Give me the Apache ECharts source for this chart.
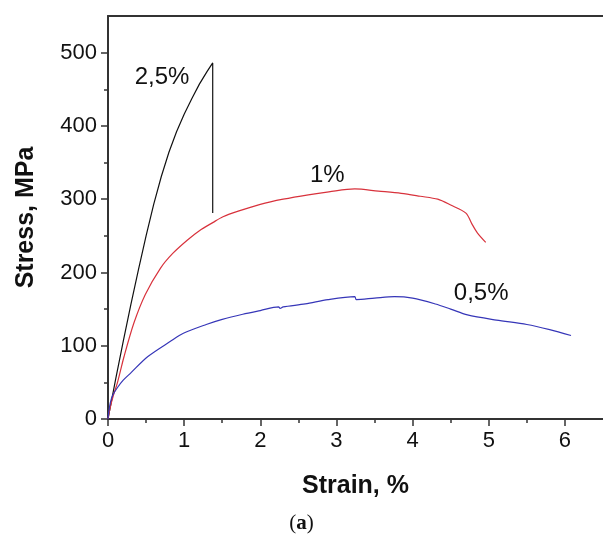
<!DOCTYPE html>
<html>
<head>
    <meta charset="UTF-8">
    <title>Stress-strain curves</title>
    <script src="https://cdn.jsdelivr.net/npm/echarts@6/dist/echarts.min.js"></script>
    <style>
      html, body { margin: 0; padding: 0; background: #fff; }
      #chart { width: 603px; height: 545px; }
    </style>
</head>
<body>
    <div id="chart"></div>
    <script>
        // curves: [strain %, stress MPa]
        var curve25 = [[0,0],[0.1,54],[0.2,106],[0.3,156],[0.4,204],[0.5,250],[0.6,293],[0.7,331],[0.8,364],[0.9,392],[1.0,416],[1.1,437],[1.2,457],[1.3,474],[1.375,486],[1.375,281]];
        var curve1 = [[0,0],[0.03,16],[0.07,32],[0.125,50],[0.21,85],[0.34,131],[0.49,170],[0.69,206],[0.85,226],[1.04,244],[1.2,257],[1.375,268],[1.51,276],[1.72,284],[2.0,293],[2.3,300],[2.63,306],[2.9,310],[3.24,314],[3.55,311],[3.85,308],[4.1,304],[4.33,300],[4.5,292],[4.7,281],[4.78,266],[4.85,254],[4.96,241]];
        var curve05 = [[0,0],[0.01,10],[0.03,22],[0.06,32],[0.125,43],[0.2,53],[0.3,63],[0.52,85],[0.82,106],[0.99,117],[1.29,129],[1.5,136],[1.77,143],[2.0,148],[2.24,153],[2.26,151],[2.3,153],[2.59,157],[2.89,163],[3.24,167],[3.26,163],[3.5,165],[3.76,167],[4.0,165],[4.3,157],[4.5,150],[4.72,142],[5.1,135],[5.5,129],[5.8,122],[6.08,114]];

        var curveNames = ['2,5%', '1%', '0,5%'];
        // where each curve's name sits, in strain / stress units
        var namePos = [[0.71, 466], [2.88, 333], [4.9, 172]];

        var xTicks = [0, 1, 2, 3, 4, 5, 6];
        var xMinor = [0.5, 1.5, 2.5, 3.5, 4.5, 5.5];
        var yTicks = [0, 100, 200, 300, 400, 500];
        var yMinor = [50, 150, 250, 350, 450];

        var font = 'Liberation Sans, Arial, sans-serif';
        var axisColor = '#333';

        var chart = echarts.init(document.getElementById('chart'), null, {renderer: 'canvas'});

        function curveSeries(data, color, i, smooth) {
            return {
                type: 'line',
                data: data,
                xAxisIndex: 0,
                yAxisIndex: 0,
                showSymbol: false,
                symbol: 'none',
                silent: true,
                smooth: smooth,
                lineStyle: {color: color, width: 1.2},
                markPoint: {
                    symbol: 'circle',
                    symbolSize: 0,
                    silent: true,
                    data: [{
                        coord: namePos[i],
                        label: {
                            show: true,
                            position: 'inside',
                            formatter: curveNames[i],
                            color: '#111',
                            fontFamily: font,
                            fontSize: 24
                        }
                    }]
                }
            };
        }

        var option = {
            animation: false,
            backgroundColor: '#fff',
            grid: {left: 108, right: -4, top: 16, bottom: 126},
            xAxis: [{
                type: 'value',
                position: 'bottom',
                min: 0,
                max: 6.5,
                name: 'Strain, %',
                nameLocation: 'middle',
                nameGap: 55,
                nameTextStyle: {fontFamily: font, fontSize: 25, fontWeight: 'bold', color: '#111'},
                splitLine: {show: false},
                axisLine: {onZero: false, lineStyle: {color: axisColor, width: 2}},
                axisTick: {customValues: xTicks, length: 7, lineStyle: {color: axisColor, width: 1.5}},
                axisLabel: {customValues: xTicks, margin: 11, fontFamily: font, fontSize: 22, color: '#111'}
            }, {
                type: 'value',
                position: 'bottom',
                min: 0,
                max: 6.5,
                splitLine: {show: false},
                axisLine: {show: false, onZero: false},
                axisTick: {customValues: xMinor, length: 4, lineStyle: {color: axisColor, width: 1.5}},
                axisLabel: {show: false}
            }, {
                type: 'value',
                position: 'top',
                min: 0,
                max: 6.5,
                splitLine: {show: false},
                axisLine: {onZero: false, lineStyle: {color: axisColor, width: 2}},
                axisTick: {show: false},
                axisLabel: {show: false}
            }],
            yAxis: [{
                type: 'value',
                position: 'left',
                min: 0,
                max: 550,
                name: 'Stress, MPa',
                nameLocation: 'middle',
                nameGap: 69,
                nameTextStyle: {fontFamily: font, fontSize: 25, fontWeight: 'bold', color: '#111'},
                splitLine: {show: false},
                axisLine: {onZero: false, lineStyle: {color: axisColor, width: 2}},
                axisTick: {customValues: yTicks, length: 7, lineStyle: {color: axisColor, width: 1.5}},
                axisLabel: {customValues: yTicks, margin: 11, fontFamily: font, fontSize: 22, color: '#111'}
            }, {
                type: 'value',
                position: 'left',
                min: 0,
                max: 550,
                splitLine: {show: false},
                axisLine: {show: false, onZero: false},
                axisTick: {customValues: yMinor, length: 4, lineStyle: {color: axisColor, width: 1.5}},
                axisLabel: {show: false}
            }],
            graphic: [{
                type: 'text',
                left: 'center',
                top: 513,
                style: {
                    text: '({b|a})',
                    font: '21px "Liberation Serif", serif',
                    fill: '#111',
                    rich: {b: {fontWeight: 'bold', fontFamily: 'Liberation Serif', fontSize: 21}}
                }
            }],
            series: [
                curveSeries(curve25, '#111111', 0, false),
                curveSeries(curve1, '#d8323c', 1, 0.3),
                curveSeries(curve05, '#3636b8', 2, 0.3)
            ]
        };

        chart.setOption(option);
    </script>
</body>
</html>
